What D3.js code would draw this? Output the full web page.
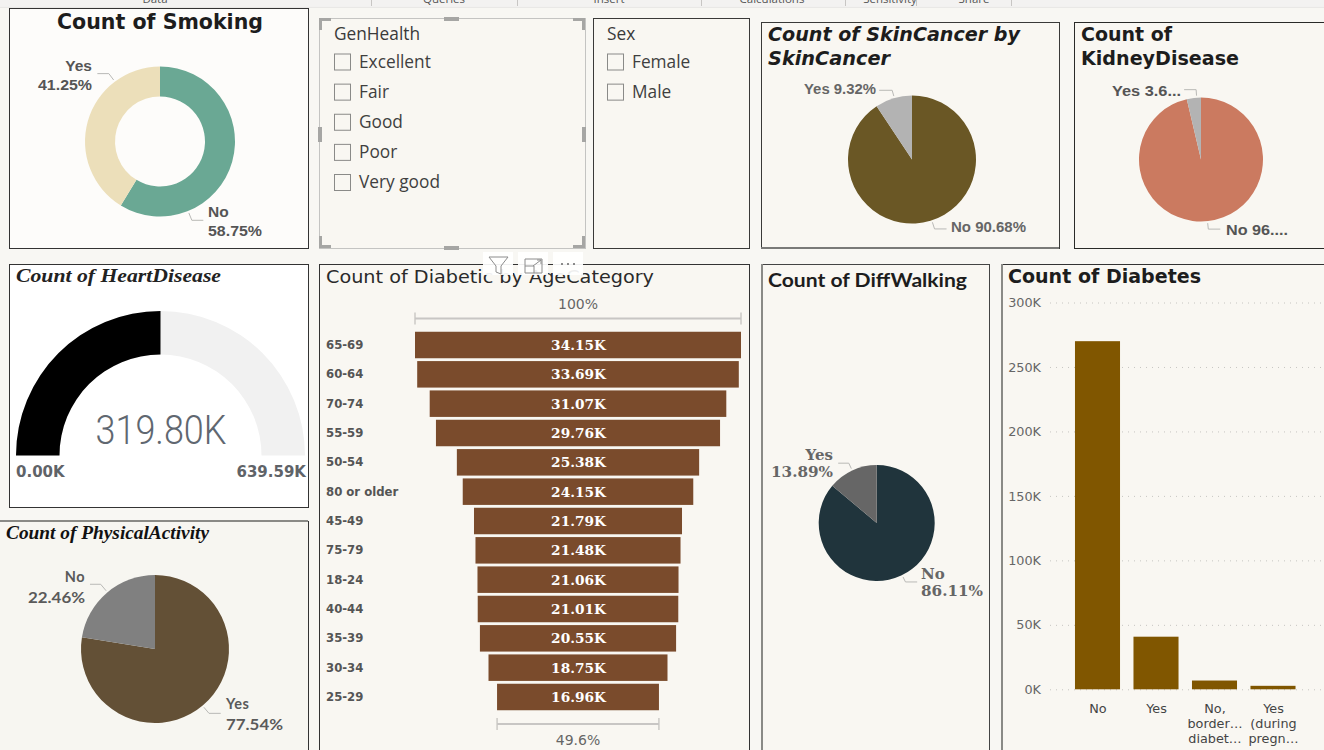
<!DOCTYPE html>
<html><head><meta charset="utf-8">
<script src="https://cdn.jsdelivr.net/npm/d3@7"></script>
<style>html,body{margin:0;padding:0;background:#f8f7f3;overflow:hidden}svg{display:block}text{white-space:pre}</style>
</head><body><svg id="c" width="1324" height="750"></svg>
<script>
// ---- data ----
const yesNo = ["No","Yes"];
const smokingPct = [58.75,41.25];
const skinCancerPct = [90.68,9.32];
const kidneyPct = [96.32,3.68];
const physicalLabels = ["Yes","No"];
const physicalPct = [77.54,22.46];
const diffWalkingPct = [86.11,13.89];
const heartValue = 319.80, heartMax = 639.59;
const genHealth = ["Excellent","Fair","Good","Poor","Very good"];
const sexes = ["Female","Male"];
const ageCategories = ["65-69","60-64","70-74","55-59","50-54","80 or older","45-49","75-79","18-24","40-44","35-39","30-34","25-29"];
const ageCounts = [34.15,33.69,31.07,29.76,25.38,24.15,21.79,21.48,21.06,21.01,20.55,18.75,16.96];
const funnelPctLabels = ["100%","49.6%"];
const diabetesCats = ["No","Yes","No, borderline","Yes (during pregnancy)"];
const diabetesTickLines = [["No"],["Yes"],["No,","border…","diabet…"],["Yes","(during","pregn…"]];
const diabetesValues = [270000,40800,6800,2700];
const diabetesTicks = [0,50000,100000,150000,200000,250000,300000];
const ribbonLabels = ["Data","Queries","Insert","Calculations","Sensitivity","Share"];

const svg = d3.select("#c");
const DV = "'DejaVu Sans'", SERIF = "'Liberation Serif'", LS = "'Liberation Sans'";

function txt(x,y,s,o={}){
  const t = svg.append("text").attr("x",x).attr("y",y).text(s)
    .attr("font-family",o.f||DV).attr("font-size",o.s||14).attr("fill",o.c||"#333")
    .attr("font-weight",o.w||"normal").attr("font-style",o.i?"italic":"normal")
    .attr("text-anchor",o.a||"start");
  if(o.ls) t.attr("letter-spacing",o.ls);
  if(o.tl) t.attr("textLength",o.tl).attr("lengthAdjust","spacingAndGlyphs");
  return t;
}
function panel(x,y,x2,y2,fill,stroke,sw){
  svg.append("rect").attr("x",x+.5).attr("y",y+.5).attr("width",x2-x).attr("height",y2-y)
    .attr("fill",fill||"#f9f7f2").attr("stroke",stroke||"#3a3a38").attr("stroke-width",sw||1);
}
function pieChart(cx,cy,r,inner,values,colors){
  const arcs = d3.pie().sort(null)(values);
  const a = d3.arc().innerRadius(inner).outerRadius(r);
  svg.append("g").attr("transform",`translate(${cx},${cy})`).selectAll("path").data(arcs).join("path")
    .attr("d",a).attr("fill",(d,i)=>colors[i]);
}
function leader(cx,cy,r,deg,elbowR,run){
  const t = deg*Math.PI/180, sx=Math.sin(t), sy=-Math.cos(t);
  const ex=cx+elbowR*sx, ey=cy+elbowR*sy, dir=sx<0?-1:1;
  const pts=[[cx+(r+2)*sx,cy+(r+2)*sy],[ex,ey],[ex+dir*run,ey]];
  svg.append("path").attr("d",d3.line()(pts)).attr("fill","none").attr("stroke","#b9b9b6").attr("stroke-width",1);
}

// ---- ribbon ----
const ribbon = svg.append("defs").append("linearGradient").attr("id","rb").attr("x1",0).attr("x2",0).attr("y1",0).attr("y2",1);
ribbon.append("stop").attr("offset","0.8").attr("stop-color","#f3f2f1");
ribbon.append("stop").attr("offset","1").attr("stop-color","#e4e3e1");
svg.append("rect").attr("width",1324).attr("height",8).attr("fill","url(#rb)");
[155,444,609,772,890,974].forEach((x,i)=>txt(x,3,ribbonLabels[i],{s:11.5,a:"middle",c:"#555",f:"'Open Sans'"}));
[371,517,701,845,916,1011].forEach(x=>svg.append("line").attr("x1",x+.5).attr("x2",x+.5).attr("y1",0).attr("y2",6).attr("stroke","#c8c6c4"));

// ---- Smoking ----
panel(9,8,308,248,"#fdfcfa","#333",1);
txt(160,29,"Count of Smoking",{w:"bold",s:21,a:"middle",c:"#1d1d1d",tl:206});
pieChart(160,141.5,75,45,smokingPct,["#6aa894","#ecdfba"]);
leader(160,141.5,75,323,85,11.5);
leader(160,141.5,75,158,85,11.5);
txt(92,71,yesNo[1],{f:LS,w:"bold",s:15.5,a:"end",c:"#555"});
txt(92,90,smokingPct[1].toFixed(2)+"%",{f:LS,w:"bold",s:15.5,a:"end",c:"#555",tl:54});
txt(208,217,yesNo[0],{f:LS,w:"bold",s:15.5,c:"#555"});
txt(208,236,smokingPct[0].toFixed(2)+"%",{f:LS,w:"bold",s:15.5,c:"#555",tl:54});

// ---- slicers ----
function slicer(x,title,items){
  txt(x,40,title,{f:"'Open Sans'",s:17.3,c:"#3a3a3a"});
  const y = d3.scalePoint().domain(genHealth).range([61.5,182]);
  items.forEach((it,i)=>{
    const cy = y(genHealth[i]);
    svg.append("rect").attr("x",x+.5).attr("y",cy-7.5).attr("width",16).attr("height",16)
      .attr("fill","none").attr("stroke","#8a8a88");
    txt(x+25,cy+6,it,{f:"'Open Sans'",s:17.3,c:"#3f3f3f"});
  });
}
panel(319,18,585,248,"#f9f7f2","#c4c4c2",1);
slicer(334,"GenHealth",genHealth);
panel(593,18,749,248,"#f9f7f2","#3a3a38",1);
slicer(607,"Sex",sexes);
// focus brackets and handles
const gr="#a6a6a4";
[[319,18,1,1],[585,18,-1,1],[319,248,1,-1],[585,248,-1,-1]].forEach(([x,y,dx,dy])=>{
  svg.append("path").attr("d",`M${x+dx*12},${y+dy*1.5}H${x+dx*1.5}V${y+dy*12}`).attr("fill","none").attr("stroke",gr).attr("stroke-width",3);
});
[[444,17,15,4],[444,246,15,4],[318,127,4,15],[582,127,4,15]].forEach(([x,y,w,h])=>
  svg.append("rect").attr("x",x).attr("y",y).attr("width",w).attr("height",h).attr("fill",gr));

// ---- SkinCancer ----
panel(761,22,1059,248,"#f9f7f2","#3a3a38",1);
svg.append("rect").attr("x",761).attr("y",247).attr("width",298).attr("height",2).attr("fill","#7a7a78");
txt(768,41,"Count of SkinCancer by",{w:"bold",i:1,s:19.5,c:"#1d1d1d",tl:252});
txt(768,65,"SkinCancer",{w:"bold",i:1,s:19.5,c:"#1d1d1d",tl:122});
pieChart(912,159.5,64,0,skinCancerPct,["#6a5725","#b3b3b3"]);
leader(912,159.5,64,344,72,13);
leader(912,159.5,64,162,73,12);
txt(876,94,yesNo[1]+" "+skinCancerPct[1].toFixed(2)+"%",{f:LS,w:"bold",s:14,a:"end",c:"#666",tl:72});
txt(951,232,yesNo[0]+" "+skinCancerPct[0].toFixed(2)+"%",{f:LS,w:"bold",s:14,c:"#666",tl:75});

// ---- KidneyDisease ----
panel(1074,22,1330,248,"#f9f7f2","#2a2a28",1);
txt(1081,41,"Count of",{w:"bold",s:19.5,c:"#1d1d1d",tl:91});
txt(1081,65,"KidneyDisease",{w:"bold",s:19.5,c:"#1d1d1d",tl:158});
pieChart(1201,159.5,62,0,kidneyPct,["#cb7a60","#b3b3b3"]);
leader(1201,159.5,62,356,70,12);
leader(1201,159.5,62,174,70,12);
txt(1112,96,yesNo[1]+" 3.6...",{f:LS,w:"bold",s:14.5,c:"#555",tl:69});
txt(1226,235,yesNo[0]+" 96....",{f:LS,w:"bold",s:14.5,c:"#555",tl:62});

// ---- HeartDisease gauge ----
panel(9,264,308,507,"#ffffff","#333",1);
txt(16,282,"Count of HeartDisease",{f:SERIF,w:"bold",i:1,s:19,c:"#222",tl:205});
const gaugeAngle = d3.scaleLinear().domain([0,heartMax]).range([-Math.PI/2,Math.PI/2]);
const gaugeArc = d3.arc().innerRadius(101).outerRadius(144.5);
const gauge = svg.append("g").attr("transform","translate(160.5,455.5)");
gauge.append("path").attr("d",gaugeArc({startAngle:gaugeAngle(0),endAngle:gaugeAngle(heartMax)})).attr("fill","#f1f1f1");
gauge.append("path").attr("d",gaugeArc({startAngle:gaugeAngle(0),endAngle:gaugeAngle(heartValue)})).attr("fill","#000");
txt(161,444,heartValue.toFixed(2)+"K",{f:"Roboto",w:300,s:41,a:"middle",c:"#606770",tl:131});
txt(16,477,"0.00K",{w:"bold",s:15,c:"#5f6368"});
txt(306,477,heartMax.toFixed(2)+"K",{w:"bold",s:15,a:"end",c:"#5f6368"});

// ---- PhysicalActivity ----
panel(-2,521,308,760,"#f7f6f1","#333",1);
svg.append("rect").attr("x",0).attr("y",520).attr("width",308).attr("height",2).attr("fill","#8a8a86");
txt(6,539,"Count of PhysicalActivity",{f:SERIF,w:"bold",i:1,s:19,c:"#111",tl:203});
pieChart(155,649,74,0,physicalPct,["#635036","#808080"]);
leader(155,649,74,320,84.5,10.7);
leader(155,649,74,140,84,11.7);
txt(85,582,physicalLabels[1],{s:14.5,a:"end",c:"#5a5a5a",f:"Lato",w:"bold",ls:.5});
txt(85,603,physicalPct[1].toFixed(2)+"%",{s:14.5,a:"end",c:"#5a5a5a",f:"Lato",w:"bold",tl:57});
txt(226,709,physicalLabels[0],{s:14.5,c:"#5a5a5a",f:"Lato",w:"bold",ls:.5});
txt(226,730,physicalPct[0].toFixed(2)+"%",{s:14.5,c:"#5a5a5a",f:"Lato",w:"bold",tl:57});

// ---- Funnel ----
panel(319,264,749,760,"#f9f7f2","#333",1);
txt(326,283,"Count of Diabetic by AgeCategory",{s:18.5,c:"#2a2a2a",tl:328});
const fw = d3.scaleLinear().domain([0,d3.max(ageCounts)]).range([0,326]);
const fy = d3.scalePoint().domain(ageCategories).range([345,697]);
const funnelCx = 578, barH = 26.5;
svg.append("g").selectAll("rect").data(ageCounts).join("rect")
  .attr("x",d=>funnelCx-fw(d)/2).attr("width",d=>fw(d))
  .attr("y",(d,i)=>fy(ageCategories[i])-barH/2).attr("height",barH).attr("fill","#7a4b2c");
ageCategories.forEach((c,i)=>{
  txt(326,fy(c)+4,c,{w:"bold",s:11.7,c:"#555"});
  txt(funnelCx+.5,fy(c)+5,ageCounts[i].toFixed(2)+"K",{f:"'DejaVu Serif'",w:"bold",s:13.7,a:"middle",c:"#fff"});
});
function bracket(v,y,label,ty){
  const w=fw(v), x0=funnelCx-w/2, x1=funnelCx+w/2;
  svg.append("path").attr("d",`M${x0},${y-6}V${y+6}M${x1},${y-6}V${y+6}`).attr("stroke","#b5b3b0").attr("fill","none");
  svg.append("line").attr("x1",x0).attr("x2",x1).attr("y1",y).attr("y2",y).attr("stroke","#c8c6c4").attr("stroke-width",2);
  txt(funnelCx,ty,label,{s:14,a:"middle",c:"#666"});
}
bracket(d3.max(ageCounts),318.5,funnelPctLabels[0],309);
bracket(d3.min(ageCounts),724,funnelPctLabels[1],745);

// focus toolbar
const tb = svg.append("g");
[[483,30],[518,30],[553,30]].forEach(([x,w])=>tb.append("rect").attr("x",x).attr("y",252).attr("width",w).attr("height",23).attr("fill","#fff").attr("fill-opacity",.92));
tb.append("path").attr("d","M489,257H508L501,266V274L496,272V266Z").attr("fill","none").attr("stroke","#8c8c8c");
tb.append("path").attr("d","M525,259H542V273M525,259V273H542M534,266H525M534,266V273M533,266L541,260M537,260H541V264").attr("fill","none").attr("stroke","#8c8c8c");
[562,568,574].forEach(x=>tb.append("circle").attr("cx",x).attr("cy",264).attr("r",1).attr("fill","#666"));

// ---- DiffWalking ----
panel(761,264,989,760,"#f9f7f2","#444",1);
svg.append("rect").attr("x",761).attr("y",264).attr("width",2).attr("height",486).attr("fill","#8a8a86");
txt(768,287,"Count of DiffWalking",{f:"Lato",w:"bold",s:19.5,c:"#1d1d1d",tl:199});
pieChart(876.7,523,58,0,diffWalkingPct,["#20343c","#666666"]);
leader(876.7,523,58,335,66,10.6);
leader(876.7,523,58,154,65.6,11.7);
const SER="'DejaVu Serif'";
txt(833,460,yesNo[1],{f:SER,w:"bold",s:15,a:"end",c:"#666"});
txt(833,477,diffWalkingPct[1].toFixed(2)+"%",{f:SER,w:"bold",s:15,a:"end",c:"#666",tl:62});
txt(921,579,yesNo[0],{f:SER,w:"bold",s:15,c:"#666"});
txt(921,596,diffWalkingPct[0].toFixed(2)+"%",{f:SER,w:"bold",s:15,c:"#666",tl:62});

// ---- Diabetes bars ----
panel(1002,264,1330,760,"#f9f7f2","#333",1);
svg.append("rect").attr("x",1001).attr("y",264).attr("width",2).attr("height",486).attr("fill","#8a8a86");
txt(1008,283,"Count of Diabetes",{w:"bold",s:19,c:"#1d1d1d",tl:193});
const yB = d3.scaleLinear().domain([0,300000]).range([689.3,302.5]);
const xB = d3.scaleBand().domain(diabetesCats).range([1068.25,1302.25]).paddingInner(.23).paddingOuter(.115);
const axis = d3.axisLeft(yB).tickValues(diabetesTicks).tickFormat(d=>(d/1000)+"K").tickSize(0).tickPadding(9);
const ag = svg.append("g").attr("transform","translate(1050,0)").call(axis);
ag.select(".domain").remove();
ag.selectAll("text").attr("font-family",DV).attr("font-size",12.8).attr("fill","#666");
ag.selectAll(".tick").append("line").attr("x1",0).attr("x2",274).attr("stroke","#c6c5c1").attr("stroke-dasharray","1,5");
svg.append("g").selectAll("rect").data(diabetesValues).join("rect")
  .attr("x",(d,i)=>xB(diabetesCats[i])).attr("width",xB.bandwidth())
  .attr("y",d=>yB(d)).attr("height",d=>yB(0)-yB(d)).attr("fill","#805600");
diabetesCats.forEach((c,i)=>diabetesTickLines[i].forEach((ln,j)=>
  txt(xB(c)+xB.bandwidth()/2+0.5,713+j*15,ln,{s:12.8,a:"middle",c:"#444"})));
</script></body></html>
